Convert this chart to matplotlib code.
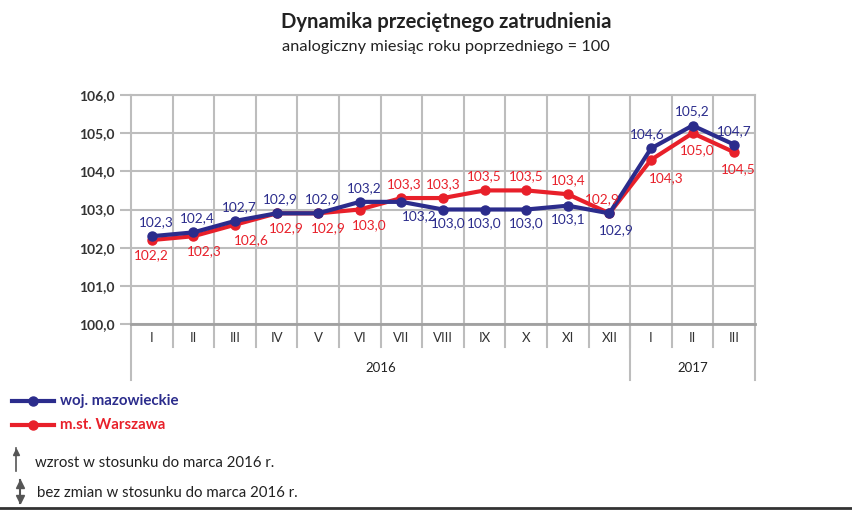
import matplotlib
matplotlib.use("Agg")
import matplotlib.pyplot as plt
from matplotlib.lines import Line2D

plt.rcParams['font.family'] = ['Lato', 'DejaVu Sans']

# dane
miesiace = ["I", "II", "III", "IV", "V", "VI", "VII", "VIII", "IX", "X", "XI", "XII", "I", "II", "III"]
lata = ["2016", "2017"]
mies_w_roku = [12, 3]
mazowieckie = [102.3, 102.4, 102.7, 102.9, 102.9, 103.2, 103.2, 103.0, 103.0, 103.0, 103.1, 102.9, 104.6, 105.2, 104.7]
warszawa = [102.2, 102.3, 102.6, 102.9, 102.9, 103.0, 103.3, 103.3, 103.5, 103.5, 103.4, 102.9, 104.3, 105.0, 104.5]

# przesuniecia etykiet (punkty)
off_maz = [(3, 10), (3, 10), (3, 10), (3, 10), (3, 10), (3, 10), (13, -10), (4, -10), (0, -10), (0, -10), (0, -10),
           (5, -12), (-3, 10), (0, 10), (0, 10)]
off_war = [(0, -11), (8, -11), (12, -11), (7, -11), (7, -11), (7, -11), (2, 10), (0, 10), (0, 10), (0, 10), (0, 10),
           (-5, 10), (11, -13), (3, -12), (3, -12)]

NIEBIESKI = "#2b2c8c"
CZERWONY = "#e8202a"
SZARY = "#bdbdbd"

fig = plt.figure(figsize=(8.52, 5.11), dpi=100)
ax = fig.add_axes([131 / 852, 1 - 324 / 511, 624 / 852, 229 / 511])

x = list(range(len(miesiace)))
ax.plot(x, warszawa, color=CZERWONY, lw=3, marker="o", ms=6.5, zorder=3)
ax.plot(x, mazowieckie, color=NIEBIESKI, lw=3, marker="o", ms=6.5, zorder=4)

def fmt(v):
    return f"{v:.1f}".replace(".", ",")

for i in x:
    ax.annotate(fmt(mazowieckie[i]), (i, mazowieckie[i]), xytext=off_maz[i], textcoords="offset points",
                ha="center", va="center", color=NIEBIESKI, fontsize=9.8, zorder=5)
    ax.annotate(fmt(warszawa[i]), (i, warszawa[i]), xytext=off_war[i], textcoords="offset points",
                ha="center", va="center", color=CZERWONY, fontsize=9.8, zorder=5)

ax.set_xlim(-0.5, len(miesiace) - 0.5)
ax.set_ylim(100, 106)
ax.set_yticks(range(100, 107))
ax.set_yticklabels([fmt(v) for v in range(100, 107)], fontsize=10, fontweight="bold", color="#333333")
ax.tick_params(axis="y", length=8, color=SZARY, width=1.5, pad=4)
ax.set_xticks([])
ax.grid(axis="y", color=SZARY, lw=1.5)
for b in range(1, len(miesiace)):
    ax.axvline(b - 0.5, color=SZARY, lw=1.5, zorder=1)
for s in ["top", "right", "left"]:
    ax.spines[s].set_color(SZARY)
    ax.spines[s].set_linewidth(1.5)
ax.spines["bottom"].set_color("#a0a0a0")
ax.spines["bottom"].set_linewidth(2)

# os kategorii pod wykresem
tr = ax.get_xaxis_transform()
for i, m in enumerate(miesiace):
    ax.text(i, -0.062, m, transform=tr, ha="center", va="center", fontsize=9.5, color="#333333")
for b in range(1, len(miesiace)):
    ax.plot([b - 0.5, b - 0.5], [0, -0.1], transform=tr, color=SZARY, lw=1.5, clip_on=False)
start = -0.5
for rok, n in zip(lata, mies_w_roku):
    ax.plot([start, start], [0, -0.245], transform=tr, color=SZARY, lw=1.5, clip_on=False)
    ax.text(start + n / 2, -0.19, rok, transform=tr, ha="center", va="center", fontsize=9.5, color="#222222")
    start += n
ax.plot([start, start], [0, -0.245], transform=tr, color=SZARY, lw=1.5, clip_on=False)

# tytul
fig.text(446 / 852, 1 - 22 / 511, "Dynamika przeciętnego zatrudnienia", ha="center", va="center",
         fontsize=14.6, fontweight="bold", color="#222222")
fig.text(446 / 852, 1 - 47 / 511, "analogiczny miesiąc roku poprzedniego = 100", ha="center", va="center",
         fontsize=11.8, color="#222222")

# legenda
for yy, kol, nazwa in [(401, NIEBIESKI, "woj. mazowieckie"), (425, CZERWONY, "m.st. Warszawa")]:
    fig.add_artist(Line2D([12 / 852, 54 / 852], [1 - yy / 511] * 2, color=kol, lw=3))
    fig.add_artist(Line2D([33 / 852], [1 - yy / 511], color=kol, marker="o", ms=6.5))
    fig.text(60 / 852, 1 - yy / 511, nazwa, ha="left", va="center", fontsize=10.8, fontweight="bold", color=kol)

fig.add_artist(Line2D([16 / 852, 16 / 852], [1 - 471 / 511, 1 - 448 / 511], color="#555555", lw=1.2))
fig.add_artist(Line2D([16 / 852], [1 - 452 / 511], color="#555555", marker="^", ms=5))
fig.text(35 / 852, 1 - 463 / 511, "wzrost w stosunku do marca 2016 r.", ha="left", va="center", fontsize=10.8,
         color="#222222")
fig.add_artist(Line2D([20 / 852, 20 / 852], [1 - 503 / 511, 1 - 480 / 511], color="#555555", lw=1.5))
fig.add_artist(Line2D([20 / 852], [1 - 484 / 511], color="#555555", marker="^", ms=6))
fig.add_artist(Line2D([20 / 852], [1 - 499 / 511], color="#555555", marker="v", ms=6))
fig.text(37 / 852, 1 - 493 / 511, "bez zmian w stosunku do marca 2016 r.", ha="left", va="center", fontsize=10.8,
         color="#222222")
fig.add_artist(Line2D([0, 1], [1 - 508 / 511] * 2, color="#333333", lw=2))

fig.savefig("out.png", dpi=100)
